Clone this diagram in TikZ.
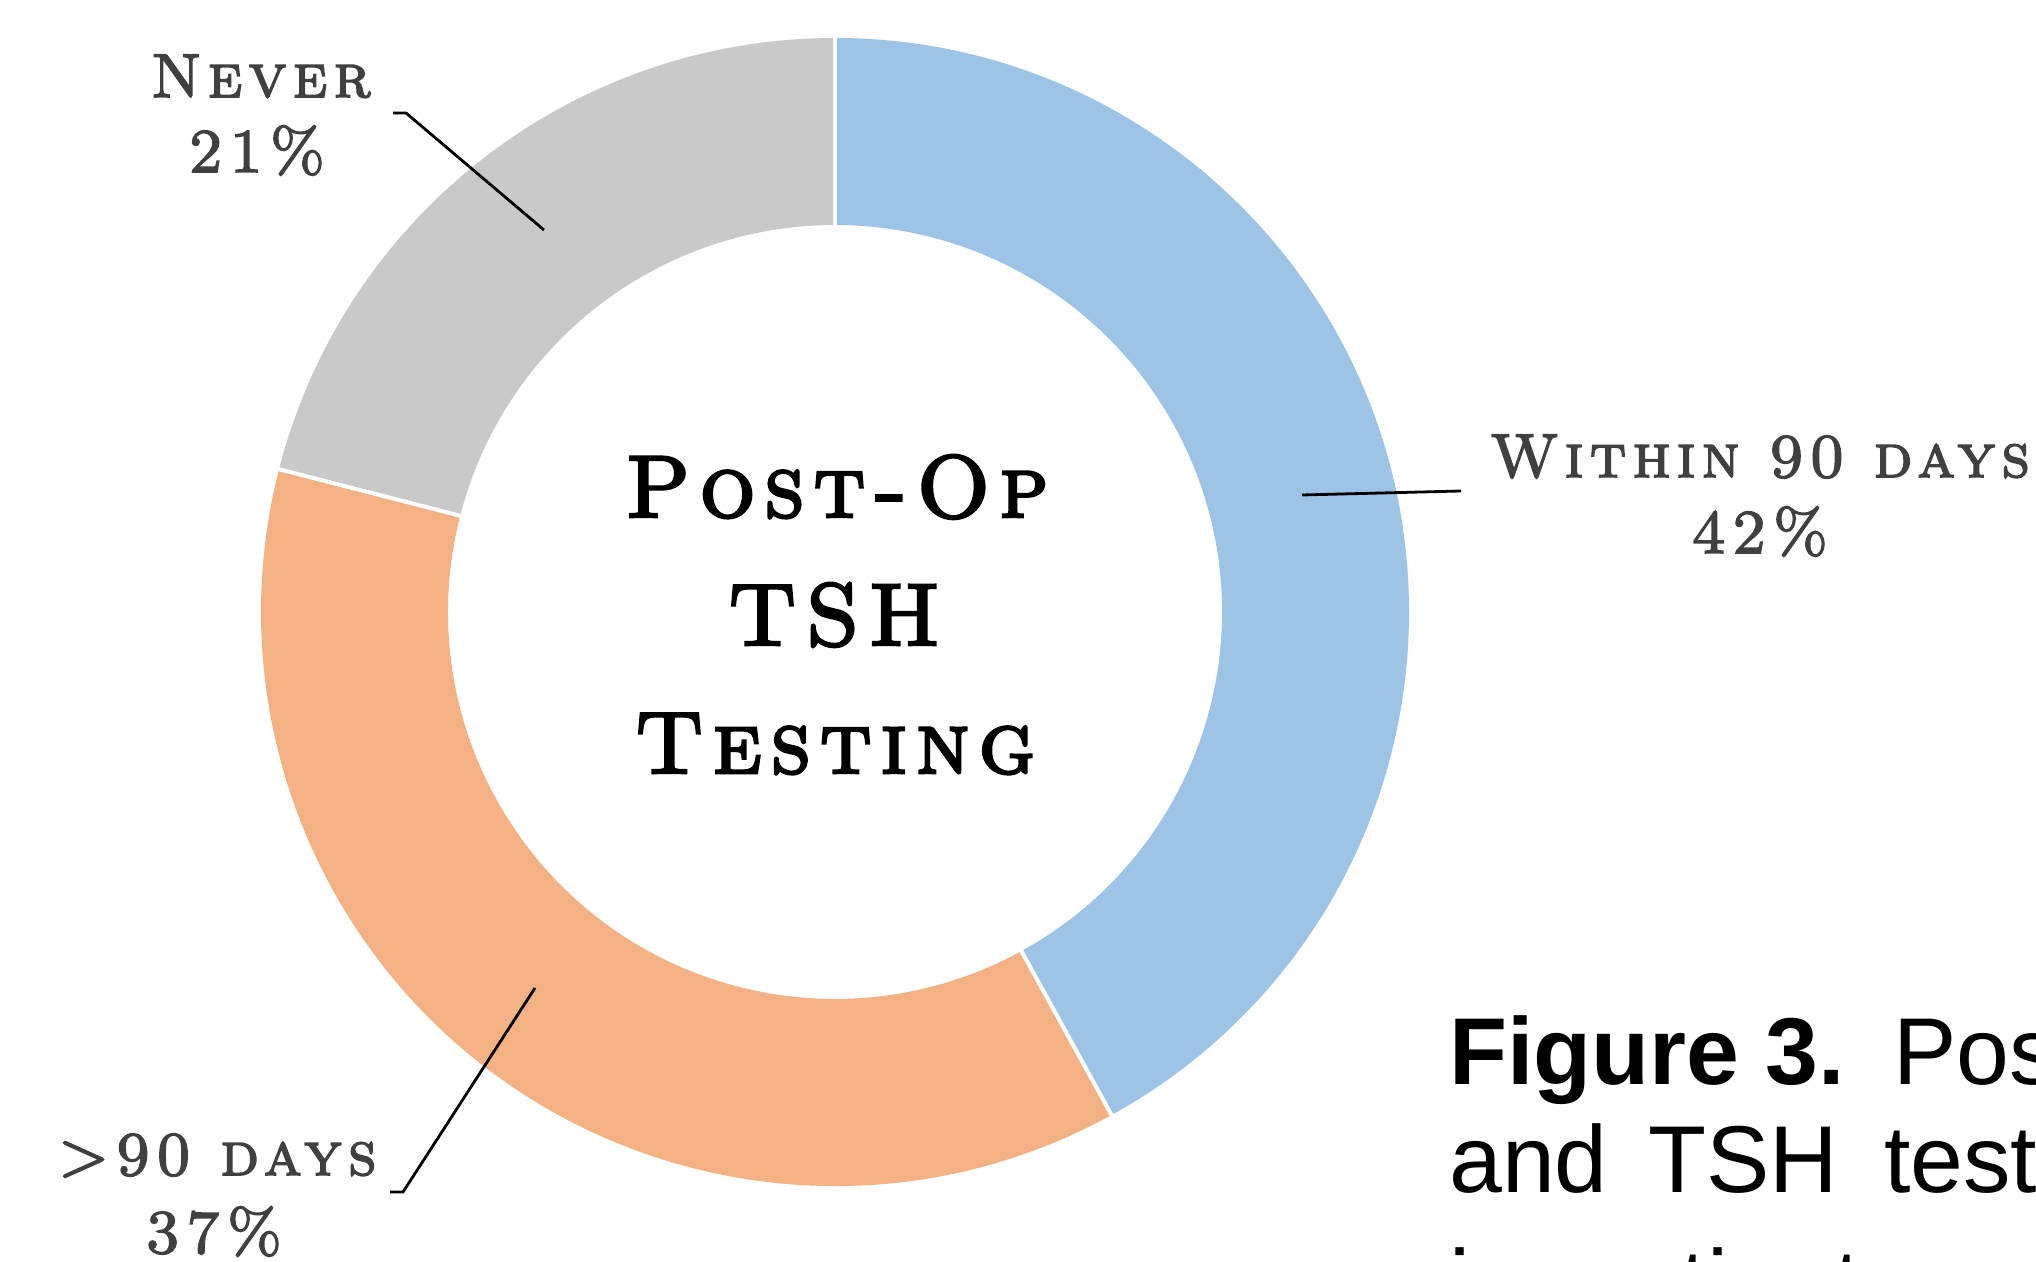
\documentclass[tikz,border=0pt]{standalone}
\usepackage{fontspec}
\newfontfamily\cpfont{lmromancaps10-regular}[Extension=.otf,FakeBold=2.6,LetterSpace=10]
\newfontfamily\cpttlfont{lmromancaps10-regular}[Extension=.otf,FakeBold=3.2,LetterSpace=10]
\newfontfamily\capfont{Liberation Sans}
\definecolor{blueS}{HTML}{9DC3E6}
\definecolor{orangeS}{HTML}{F4B183}
\definecolor{greyS}{HTML}{C9C9C9}
\definecolor{lblc}{HTML}{404040}
\begin{document}
\begin{tikzpicture}[x=1pt,y=1pt,
  lbl/.style={font=\cpfont\fontsize{62}{62}\selectfont, text=lblc, inner sep=0pt, anchor=base},
  ttl/.style={font=\cpttlfont\fontsize{88}{88}\selectfont, text=black, inner sep=0pt, anchor=base},
  captext/.style={font=\capfont\fontsize{95}{95}\selectfont, text=black, inner sep=0pt, anchor=base west},
  leader/.style={draw=black, line width=2.8pt},
  sep/.style={draw=white, line width=4pt}]
\useasboundingbox (0,0) rectangle (2036,1261);
\clip (0,0) rectangle (2036,1261);
\fill[white] (0,0) rectangle (2036,1261);
\begin{scope}[shift={(835,649)}]
  \fill[blueS] (90:574) arc[start angle=90,end angle=-61.2,radius=574]
     -- (-61.2:387) arc[start angle=-61.2,end angle=90,radius=387] -- cycle;
  \fill[orangeS] (-61.2:574) arc[start angle=-61.2,end angle=-194.4,radius=574]
     -- (-194.4:387) arc[start angle=-194.4,end angle=-61.2,radius=387] -- cycle;
  \fill[greyS] (-194.4:574) arc[start angle=-194.4,end angle=-270,radius=574]
     -- (-270:387) arc[start angle=-270,end angle=-194.4,radius=387] -- cycle;
  \draw[sep] (90:380) -- (90:580);
  \draw[sep] (-61.2:380) -- (-61.2:580);
  \draw[sep] (-194.4:380) -- (-194.4:580);
\end{scope}
% centre title
\node[ttl] (t1) at (837,744) {Post-Op};
\node[ttl] (t2) at (834,616) {TSH};
\node[ttl] (t3) at (835,488) {Testing};
% labels
\node[lbl] (never) at (261,1164) {Never};
\node[lbl] (neverp) at (257,1089) {21\%};
\node[lbl] (within) at (1760,784) {Within 90 days};
\node[lbl] (withinp) at (1760,708) {42\%};
\node[lbl] (over) at (217,86) {>90 days};
\node[lbl] (overp) at (214,8) {37\%};
% leaders
\coordinate (nvA) at (544,1031);
\coordinate (nvB) at (406,1148);
\coordinate (nvC) at (393,1148);
\draw[leader] (nvA) -- (nvB) -- (nvC);
\coordinate (wiA) at (1302,766);
\coordinate (wiB) at (1461,770);
\draw[leader] (wiA) -- (wiB);
\coordinate (ovA) at (535,273);
\coordinate (ovB) at (403,69);
\coordinate (ovC) at (390,69);
\draw[leader] (ovA) -- (ovB) -- (ovC);
% caption
\node[captext] (c1) at (1449,177) {\bfseries Figure 3.};
\node[captext] (c2) at (1893,177) {Pos};
\node[captext] (c3) at (1449,69) {and};
\node[captext] (c4) at (1648,69) {TSH};
\node[captext] (c5) at (1884,69) {test};
\node[captext] (c6) at (1449,-55) {in};
\node[captext] (c7) at (1575,-55) {patients};
\end{tikzpicture}
\end{document}
